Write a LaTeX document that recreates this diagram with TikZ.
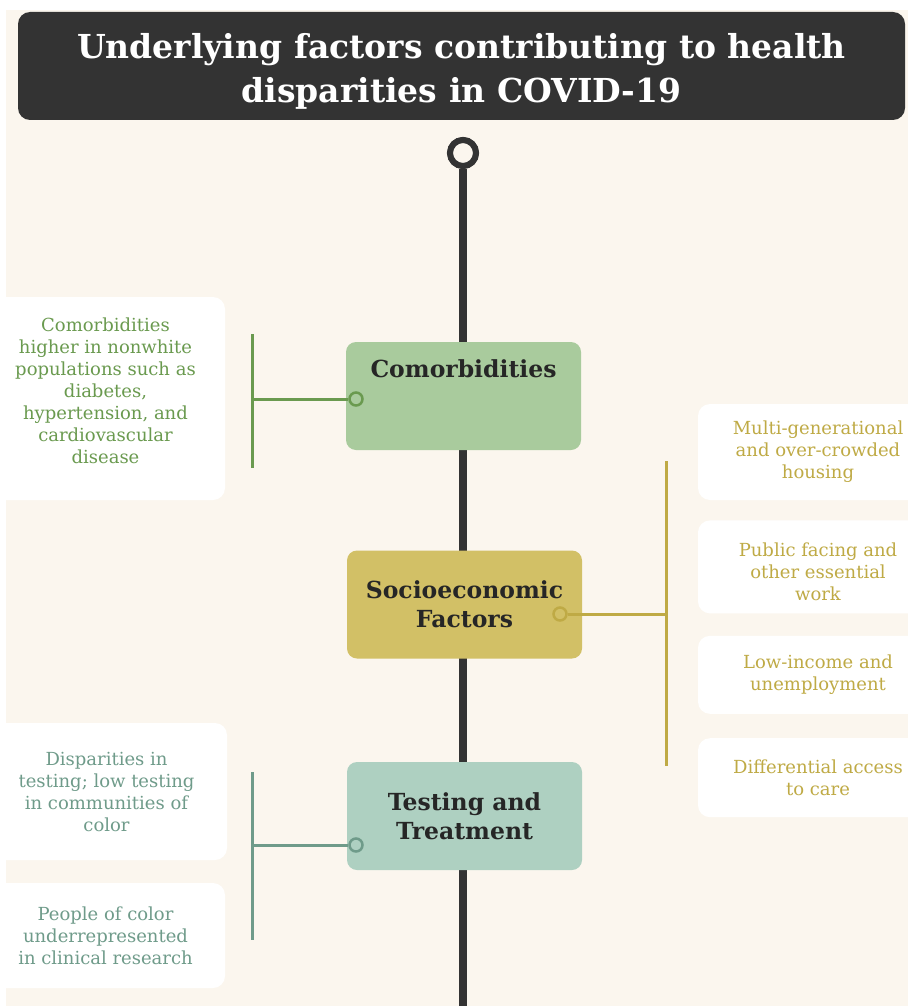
\documentclass[tikz,border=0pt]{standalone}
\usepackage{fontspec}
\setmainfont{DejaVu Serif}
\usetikzlibrary
  {
    positioning, % place nodes relative to other nodes
  }

\definecolor{cream}{HTML}{FBF6EE}
\definecolor{titlegray}{HTML}{333333}
\definecolor{comfill}{HTML}{A9CB9D}
\definecolor{comline}{HTML}{6A9A4F}
\definecolor{socfill}{HTML}{D2C066}
\definecolor{socline}{HTML}{BFAA45}
\definecolor{tstfill}{HTML}{AED0C1}
\definecolor{tstline}{HTML}{6F9B8A}

\tikzset{
  mainbox/.style={rounded corners=10pt, minimum width=235pt, minimum height=108pt,
    inner sep=0, align=center, text=black!85,
    font=\fontsize{23.5}{29}\selectfont\bfseries},
  notebox/.style={fill=white, rounded corners=12pt, inner sep=0, align=center,
    font=\fontsize{18}{22}\selectfont},
  knob/.style={circle, draw, line width=2.5pt, minimum size=13pt, inner sep=0},
  branch/.style={line width=3pt},
}

\begin{document}
\begin{tikzpicture}[x=1pt, y=-1pt, node distance=21pt]
  \clip (0,0) rectangle (908,1006);
  \fill[white] (0,0) rectangle (908,1006);
  \fill[cream] (6,10) rectangle (908,1006);

  % title bar
  \node (title) [fill=titlegray, rounded corners=12pt, minimum width=887pt, minimum height=108pt,
    inner sep=0] at (461.5,66) {};
  \node [align=center, text=white, inner sep=0, font=\fontsize{33}{44}\selectfont\bfseries]
    at ([yshift=-5pt]title.center) {Underlying factors contributing to health\\disparities in COVID-19};

  % timeline
  \coordinate (tlend) at (463,1010);
  \node (top) [circle, draw=titlegray, line width=6pt, fill=cream, minimum size=26pt, inner sep=0]
    at (463,153) {};
  \draw[titlegray, line width=8pt] (top.south) -- (tlend);
  \node [circle, draw=titlegray, line width=6pt, fill=cream, minimum size=26pt, inner sep=0]
    at (top) {};

  % comorbidities
  \node (com) [mainbox, fill=comfill] at (463.5,396) {};
  \node [mainbox, minimum height=0pt, minimum width=0pt] at ([yshift=-27pt]com.north) {Comorbidities};
  \node (comk) [knob, draw=comline, fill=comfill] at (356,399) {};
  \coordinate (comj) at (252,399);
  \coordinate (comt) at (252,334);
  \coordinate (comb) at (252,468);
  \draw[branch, comline] (comk) -- (comj);
  \draw[branch, comline] (comt) -- (comb);
  \node (comn) [notebox, minimum width=239pt, minimum height=203pt] at (105.5,398.5) {};
  \node [notebox, fill=none, text=comline] at ([yshift=8pt]comn.center)
    {Comorbidities\\higher in nonwhite\\populations such as\\diabetes,\\hypertension, and\\cardiovascular\\disease};

  % socioeconomic factors
  \node (soc) [mainbox, fill=socfill] at (464.5,604.5) {Socioeconomic\\Factors};
  \node (sock) [knob, draw=socline, fill=socfill] at (560,614) {};
  \coordinate (socj) at (666,614);
  \coordinate (soct) at (666,461);
  \coordinate (socb) at (666,766);
  \draw[branch, socline] (sock) -- (socj);
  \draw[branch, socline] (soct) -- (socb);
  \node (soc1) [notebox, text=socline, minimum width=240pt, minimum height=96pt]
    at (818,452) {Multi-generational\\and over-crowded\\housing};
  \node (soc2) [notebox, minimum width=240pt, minimum height=93pt, below=20pt of soc1] {};
  \node [notebox, fill=none, text=socline] at ([yshift=-5pt]soc2.center)
    {Public facing and\\other essential\\work};
  \node (soc3) [notebox, text=socline, minimum width=240pt, minimum height=78pt, below=22pt of soc2]
    {Low-income and\\unemployment};
  \node (soc4) [notebox, text=socline, minimum width=240pt, minimum height=79pt, below=24pt of soc3]
    {Differential access\\to care};

  % testing and treatment
  \node (tst) [mainbox, fill=tstfill] at (464.5,816) {Testing and\\Treatment};
  \node (tstk) [knob, draw=tstline, fill=tstfill] at (356,845) {};
  \coordinate (tstj) at (252,845);
  \coordinate (tstt) at (252,772);
  \coordinate (tstb) at (252,940);
  \draw[branch, tstline] (tstk) -- (tstj);
  \draw[branch, tstline] (tstt) -- (tstb);
  \node (tst1) [notebox, text=tstline, minimum width=241pt, minimum height=137pt]
    at (106.5,791.5) {Disparities in\\testing; low testing\\in communities of\\color};
  \node (tst2) [notebox, text=tstline, minimum width=239pt, minimum height=105pt]
    at (105.5,935.5) {People of color\\underrepresented\\in clinical research};
\end{tikzpicture}
\end{document}
